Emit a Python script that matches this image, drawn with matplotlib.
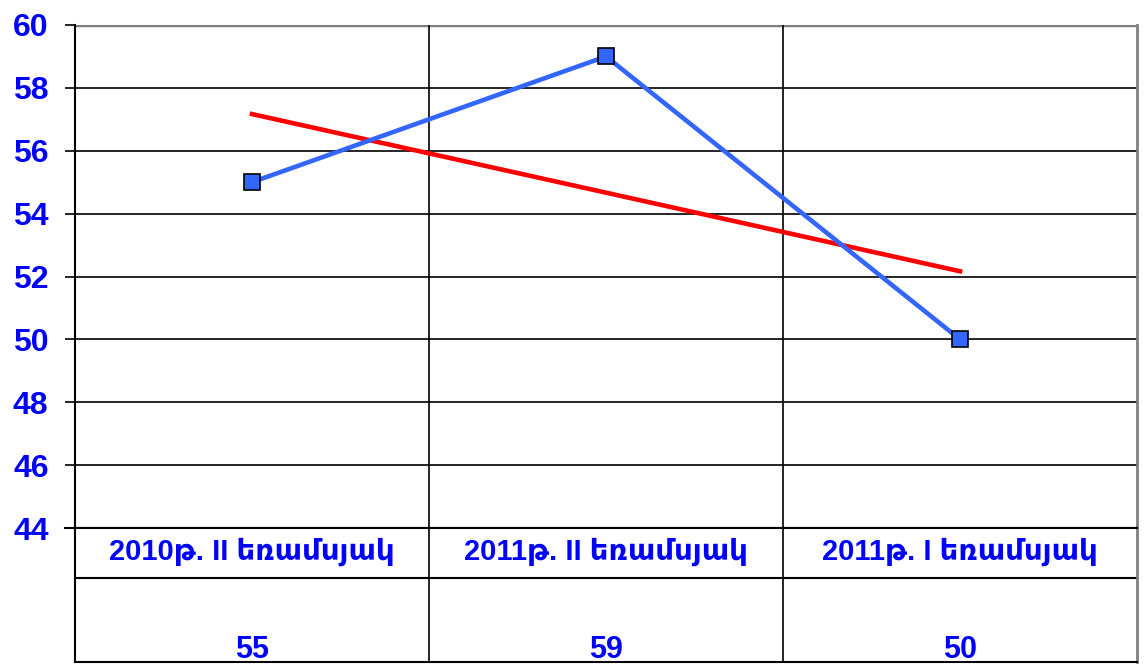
import matplotlib.pyplot as plt
import numpy as np

categories = ["2010թ. II եռամսյակ", "2011թ. II եռամսյակ", "2011թ. I եռամսյակ"]
values = [55, 59, 50]
yticks = [44, 46, 48, 50, 52, 54, 56, 58, 60]

blue_txt = "#0000FF"
fam = ["Liberation Sans", "DejaVu Sans"]

W, H = 1145, 664
fig = plt.figure(figsize=(W / 100, H / 100), dpi=100)
ax = fig.add_axes([75 / W, 1 - 528 / H, (1137 - 75) / W, (528 - 25) / H])

x = np.arange(len(values))
# linear trend like excel
k, b = np.polyfit(x, values, 1)
trend = k * x + b

ax.plot(x, values, color="#3366FF", lw=3.3, marker="s", ms=12,
        mfc="#3366FF", mec="black", mew=1.2, zorder=4)
ax.plot(x[[0, -1]], trend[[0, -1]], color="#FF0000", lw=3.3, zorder=3)

ax.set_xlim(-0.5, len(values) - 0.5)
ax.set_ylim(44, 60)
ax.set_yticks(yticks)
ax.set_yticklabels([str(t) for t in yticks], color=blue_txt, fontsize=23,
                   fontweight="bold", family=fam)
ax.tick_params(axis="y", direction="out", length=7, width=1.2, pad=12)
ax.set_xticks([])
for t in yticks[1:-1]:
    ax.axhline(t, color="black", lw=1.2, zorder=1)
ax.axhline(60, color="#808080", lw=2.5, zorder=1)
for xv in np.arange(0.5, len(values) - 0.5):
    ax.axvline(xv, color="black", lw=1.2, zorder=1)
ax.spines["left"].set_linewidth(1.5)
ax.spines["bottom"].set_linewidth(1.5)
ax.spines["top"].set_visible(False)
ax.spines["right"].set_color("#808080")
ax.spines["right"].set_linewidth(2)

# data table under the chart
tax = fig.add_axes([75 / W, 1 - 662 / H, (1137 - 75) / W, (662 - 528) / H])
tax.set_xlim(-0.5, len(values) - 0.5)
tax.set_ylim(0, 1)
tax.set_xticks([])
tax.set_yticks([])
for s in tax.spines.values():
    s.set_linewidth(1.5)
tax.spines["right"].set_color("#808080")
tax.spines["right"].set_linewidth(2)
tax.axhline(84 / 134, color="black", lw=1.5)
for xv in np.arange(0.5, len(values) - 0.5):
    tax.axvline(xv, color="black", lw=1.2)
for i, (c, v) in enumerate(zip(categories, values)):
    tax.text(i, 110 / 134, c, ha="center", va="center", color=blue_txt,
             fontsize=21, fontweight="bold", family=fam)
    tax.text(i, 12 / 134, str(v), ha="center", va="center", color=blue_txt,
             fontsize=22, fontweight="bold", family=fam)
# little tick at axis bottom-left
ax.plot([-0.5 - 10 / 354, -0.5], [44, 44], color="black", lw=1.5, clip_on=False)

fig.savefig("out.png", dpi=100)
